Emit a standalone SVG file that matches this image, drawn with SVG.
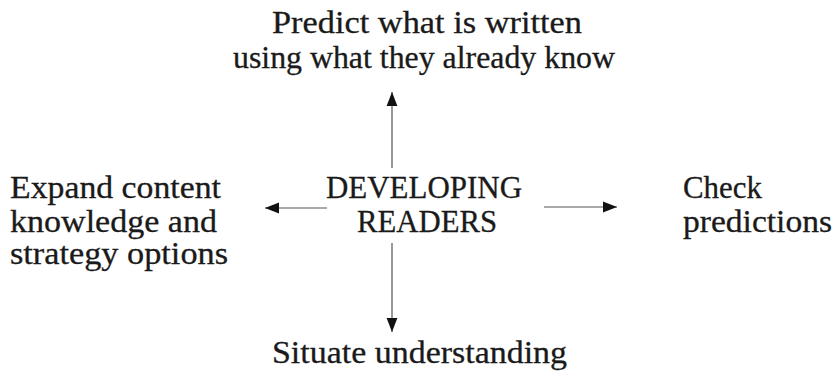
<svg xmlns="http://www.w3.org/2000/svg" width="836" height="375" viewBox="0 0 836 375">
  <style>
    text { font-family: "Liberation Serif", "Times New Roman", serif; font-size: 31px; fill: #1a1a1a; stroke: #1a1a1a; stroke-width: 0.3; }
    .mid { text-anchor: middle; }
    .conn line { stroke: #555; stroke-width: 1.2; fill: none; marker-end: url(#head); }
  </style>
  <defs>
    <marker id="head" markerUnits="userSpaceOnUse" markerWidth="14" markerHeight="12" viewBox="0 0 13 10" refX="13" refY="5" orient="auto">
      <path d="M0,0 L13,5 L0,10 Z" fill="#111"/>
    </marker>
  </defs>
  <rect width="836" height="375" fill="#fff"/>

  <g id="center">
    <text x="424" y="198" class="mid" textLength="196" lengthAdjust="spacingAndGlyphs">DEVELOPING</text>
    <text x="427" y="232" class="mid" textLength="140" lengthAdjust="spacingAndGlyphs">READERS</text>
  </g>

  <g id="predict">
    <text x="427" y="33" class="mid" textLength="310" lengthAdjust="spacingAndGlyphs">Predict what is written</text>
    <text x="424" y="68" class="mid" textLength="382" lengthAdjust="spacingAndGlyphs">using what they already know</text>
  </g>

  <g id="expand">
    <text x="10" y="198" textLength="211" lengthAdjust="spacingAndGlyphs">Expand content</text>
    <text x="10" y="232" textLength="207" lengthAdjust="spacingAndGlyphs">knowledge and</text>
    <text x="10" y="264" textLength="218" lengthAdjust="spacingAndGlyphs">strategy options</text>
  </g>

  <g id="check">
    <text x="683" y="198" textLength="79" lengthAdjust="spacingAndGlyphs">Check</text>
    <text x="683" y="232" textLength="149" lengthAdjust="spacingAndGlyphs">predictions</text>
  </g>

  <g id="situate">
    <text x="272" y="363" textLength="295" lengthAdjust="spacingAndGlyphs">Situate understanding</text>
  </g>

  <g id="connectors" class="conn">
    <line x1="392" y1="168" x2="392" y2="92"/>
    <line x1="392" y1="243" x2="392" y2="332"/>
    <line x1="327" y1="208" x2="265" y2="208"/>
    <line x1="544" y1="207" x2="617" y2="207"/>
  </g>
</svg>
